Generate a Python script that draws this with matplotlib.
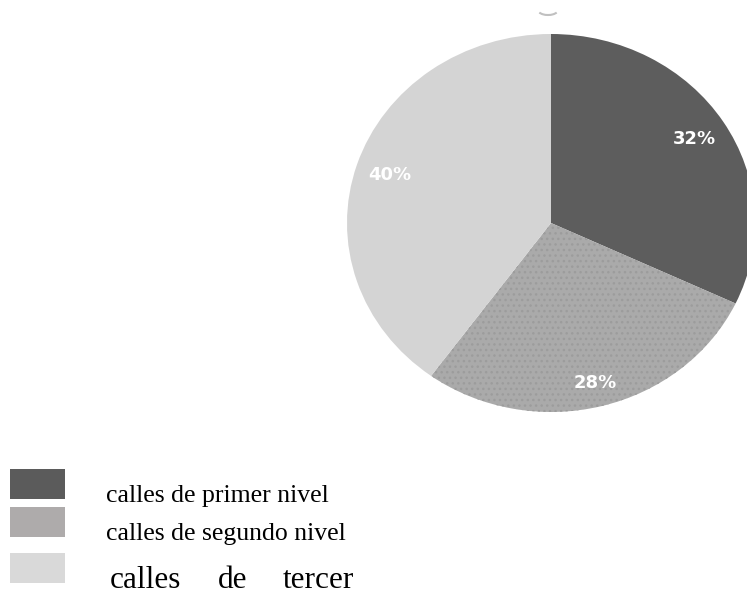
import matplotlib.pyplot as plt
from matplotlib.patches import Rectangle, Arc

# datos del grafico
categorias = ['calles de primer nivel', 'calles de segundo nivel', 'calles de tercer']
porcentajes = [32, 28, 40]
colores_pie = ['#5d5d5d', '#aaaaaa', '#d4d4d4']
colores_leyenda = ['#5b5b5b', '#aeabab', '#d9d9d9']

W, H = 747, 594
fig = plt.figure(figsize=(W / 100, H / 100), dpi=100)
fig.patch.set_facecolor('white')

# el pastel esta un poco estirado en horizontal, por eso aspect auto
cx, cy, rx, ry = 551, 223, 204, 189
ax = fig.add_axes([(cx - rx) / W, 1 - (cy + ry) / H, 2 * rx / W, 2 * ry / H])
wedges, textos, pcts = ax.pie(porcentajes, colors=colores_pie, startangle=90,
                              counterclock=False, autopct='%d%%', pctdistance=0.83,
                              wedgeprops=dict(linewidth=0),
                              textprops=dict(color='white', fontsize=13, fontweight='bold'))
ax.set_aspect('auto')
ax.set_xlim(-1, 1)
ax.set_ylim(-1, 1)
ax.axis('off')

# textura punteada en el gris medio
wedges[1].set_hatch('...')
wedges[1].set_edgecolor('#9c9c9c')
wedges[1].set_linewidth(0)
pcts[1].set_position((pcts[1].get_position()[0] * 1.05, pcts[1].get_position()[1] * 1.05))

# pequeño arco arriba del pastel
fig.add_artist(Arc((548 / W, 1 - 10 / H), 20 / W, 10 / H, theta1=200, theta2=340,
                   transform=fig.transFigure, color='#c0c0c0', lw=1.5))

# leyenda manual
cajas_y = [469, 507, 553]
for yy, col in zip(cajas_y, colores_leyenda):
    fig.add_artist(Rectangle((10 / W, 1 - (yy + 30) / H), 55 / W, 30 / H,
                             transform=fig.transFigure, facecolor=col, edgecolor='none'))

fig.text(106 / W, 1 - 502 / H, categorias[0], fontsize=18.5, family='Liberation Serif',
         va='baseline', ha='left')
fig.text(106 / W, 1 - 540 / H, categorias[1], fontsize=18.5, family='Liberation Serif',
         va='baseline', ha='left')
palabras = categorias[2].split()
xs = [110, 218, 283]
for xx, pal in zip(xs, palabras):
    fig.text(xx / W, 1 - 588 / H, pal, fontsize=22.5, family='Liberation Serif',
             va='baseline', ha='left')

fig.savefig('out.png', dpi=100)
